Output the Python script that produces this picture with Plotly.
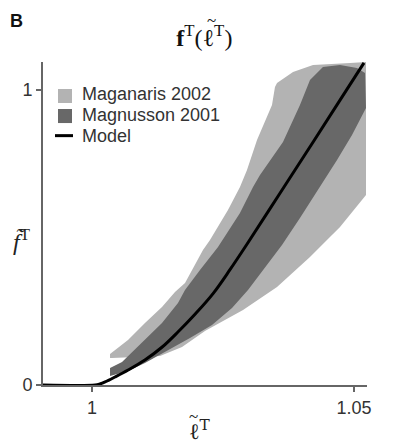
import plotly.graph_objects as go

# ---- data ----
# Maganaris 2002 band (closed polygon: upper/left edge, then lower/right edge)
mag_x = [1.00344, 1.00344, 1.00687, 1.01011, 1.01336, 1.01584, 1.01775, 1.02118, 1.02252,
         1.02595, 1.02824, 1.02958, 1.03149, 1.03302, 1.03435, 1.03492, 1.03531, 1.03836,
         1.04218, 1.04924, 1.05229,
         1.05229, 1.04733, 1.04160, 1.03531, 1.02882, 1.02538, 1.02156, 1.01718, 1.01298,
         1.00382]
mag_y = [0.0915, 0.1051, 0.1525, 0.2102, 0.2644, 0.3153, 0.3458, 0.4576, 0.4915,
         0.5932, 0.6712, 0.7288, 0.8305, 0.8915, 0.9492, 1.0102, 1.0237, 1.0610,
         1.0847, 1.0920, 1.0949,
         0.6441, 0.5356, 0.4339, 0.3322, 0.2542, 0.2203, 0.1831, 0.1288, 0.0983,
         0.0915]

# Magnusson 2001 band
mgn_x = [1.00344, 1.00344, 1.00573, 1.01011, 1.01336, 1.01641, 1.01775, 1.02061, 1.02405,
         1.02824, 1.03073, 1.03206, 1.03645, 1.03969, 1.04160, 1.04408, 1.04733, 1.05057,
         1.05210,
         1.05229, 1.04962, 1.04676, 1.04313, 1.03969, 1.03626, 1.03302, 1.02977, 1.02672,
         1.02290, 1.01870, 1.01393, 1.01011, 1.00687, 1.00344]
mgn_y = [0.0305, 0.0576, 0.0780, 0.1525, 0.2102, 0.2780, 0.3220, 0.3898, 0.4678,
         0.5831, 0.6712, 0.7119, 0.8237, 0.9492, 1.0339, 1.0780, 1.0847, 1.0746,
         1.0576,
         0.9390, 0.8475, 0.7627, 0.6610, 0.5661, 0.4746, 0.3966, 0.3220, 0.2610,
         0.2034, 0.1593, 0.1119, 0.0746, 0.0475, 0.0305]

# Model curve
model_x = [0.9906, 1.0006, 1.0015, 1.0025, 1.0044, 1.0069, 1.0101, 1.0134, 1.0164,
           1.0197, 1.0231, 1.0263, 1.0296, 1.0359, 1.0422, 1.0473, 1.0519]
model_y = [0.0, 0.0, 0.0034, 0.0102, 0.0271, 0.0508, 0.0847, 0.1288, 0.1797,
           0.2407, 0.3100, 0.3900, 0.4780, 0.6510, 0.8240, 0.9650, 1.0920]

x_ticks = [1.0, 1.05]
x_ticktext = ["1", "1.05"]
y_ticks = [0, 1]
y_ticktext = ["0", "1"]

series_names = ["Maganaris 2002", "Magnusson 2001", "Model"]
light = "#b3b3b3"
dark = "#686868"

fig = go.Figure()
fig.add_trace(go.Scatter(x=mag_x, y=mag_y, mode="lines", fill="toself",
                         fillcolor=light, line=dict(width=0, color=light),
                         name=series_names[0], showlegend=False, hoverinfo="skip"))
fig.add_trace(go.Scatter(x=mgn_x, y=mgn_y, mode="lines", fill="toself",
                         fillcolor=dark, line=dict(width=0, color=dark),
                         name=series_names[1], showlegend=False, hoverinfo="skip"))
fig.add_trace(go.Scatter(x=model_x, y=model_y, mode="lines",
                         line=dict(color="black", width=3, shape="spline", smoothing=1),
                         name=series_names[2], showlegend=False))

sans = "Liberation Sans, Arial, sans-serif"
serif = "DejaVu Serif, Liberation Serif, serif"
tfont = dict(family="Liberation Serif, DejaVu Serif, serif", size=24, color="#111111")

# manual legend (squares / line + text)
shapes = [
    dict(type="rect", xref="paper", yref="paper", x0=0.0463, x1=0.0895, y0=0.873, y1=0.9164,
         fillcolor=light, line=dict(width=0)),
    dict(type="rect", xref="paper", yref="paper", x0=0.0463, x1=0.0895, y0=0.811, y1=0.8545,
         fillcolor=dark, line=dict(width=0)),
    dict(type="line", xref="paper", yref="paper", x0=0.037, x1=0.0926, y0=0.772, y1=0.772,
         line=dict(color="black", width=3)),
]
annotations = []
for name, yy in zip(series_names, [0.9009, 0.8359, 0.7709]):
    annotations.append(dict(text=name, xref="paper", yref="paper", x=0.115, y=yy,
                            xanchor="left", yanchor="middle", showarrow=False,
                            font=dict(family=sans, size=18, color="#333333")))

annotations += [
    dict(text="<b>B</b>", xref="paper", yref="paper", x=-0.108, y=1.127, xanchor="left",
         yanchor="middle", showarrow=False, font=dict(family=sans, size=18, color="#111111")),
    # y-axis label
    dict(text="<i>f̃</i><sup>T</sup>", xref="paper", yref="paper", x=-0.066, y=0.449,
         xanchor="center", yanchor="middle", showarrow=False,
         font=dict(family="Liberation Serif, DejaVu Serif, serif", size=24, color="#222222")),
    # x-axis label: ℓ with tilde
    dict(text="ℓ<sup>T</sup>", xref="paper", yref="paper", x=0.485, y=-0.14,
         xanchor="center", yanchor="middle", showarrow=False,
         font=dict(family=serif, size=22, color="#222222")),
    dict(text="~", xref="paper", yref="paper", x=0.465, y=-0.097,
         xanchor="center", yanchor="middle", showarrow=False,
         font=dict(family="Liberation Serif, serif", size=17, color="#222222")),
    # tilde over ℓ in title
    dict(text="~", xref="paper", yref="paper", x=0.520, y=1.128,
         xanchor="center", yanchor="middle", showarrow=False,
         font=dict(family="Liberation Serif, serif", size=17, color="#111111")),
]

fig.update_layout(
    width=393, height=446,
    margin=dict(l=43, r=26, t=62, b=61),
    paper_bgcolor="white", plot_bgcolor="white",
    title=dict(text="<b>f</b><sup>T</sup>(<span style=\"font-family:DejaVu Serif\">ℓ</span><sup>T</sup>)",
               x=0.52, xanchor="center", y=0.915, yanchor="middle", font=tfont),
    showlegend=False,
    shapes=shapes,
    annotations=annotations,
)
fig.update_xaxes(range=[0.99065, 1.05248], tickvals=x_ticks, ticktext=x_ticktext,
                 showgrid=False, zeroline=False, showline=True, linecolor="#666666",
                 linewidth=2, ticks="outside", ticklen=5, tickwidth=1.5, tickcolor="#666666",
                 tickfont=dict(family=sans, size=18, color="#333333"))
fig.update_yaxes(range=[0, 1.095], tickvals=y_ticks, ticktext=y_ticktext,
                 showgrid=False, zeroline=False, showline=True, linecolor="#666666",
                 linewidth=2, ticks="outside", ticklen=5, tickwidth=1.5, tickcolor="#666666",
                 tickfont=dict(family=sans, size=18, color="#333333"))

fig.write_html("out.html")
